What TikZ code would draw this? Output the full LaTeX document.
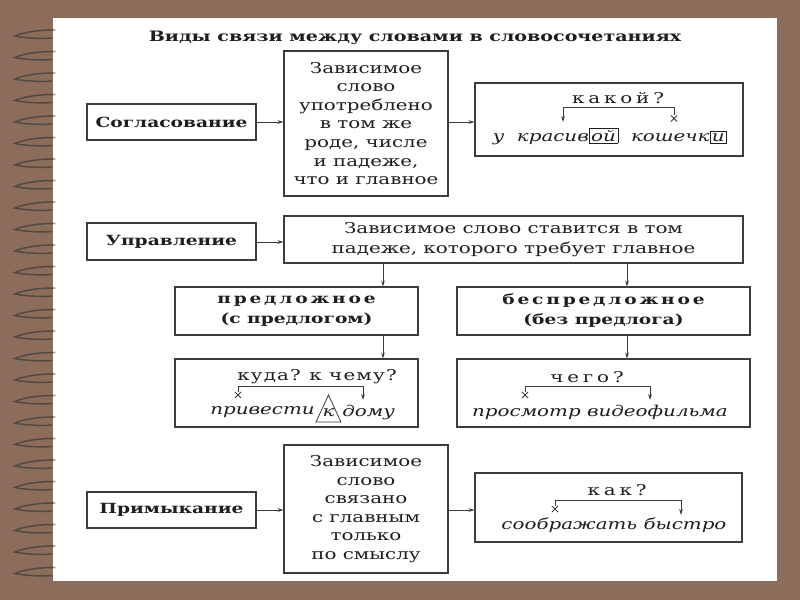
\documentclass[tikz,border=0pt]{standalone}
\usepackage{fontspec}
\setmainfont{DejaVu Serif}[FakeStretch=1.33]
\usetikzlibrary{fit,arrows.meta,shapes.misc}
\definecolor{bgbrown}{RGB}{140,108,90}
\definecolor{ink}{RGB}{30,30,30}
\definecolor{linec}{RGB}{60,60,60}
\definecolor{coilc}{RGB}{80,74,68}
\newcommand\spq[1]{{\addfontfeature{LetterSpace=26}#1}}
\newcommand\spk[1]{{\addfontfeature{LetterSpace=8}#1}}
\newcommand\spb[1]{{\addfontfeature{LetterSpace=20}#1}}
\setlength\fboxsep{1.2pt}
\setlength\fboxrule{0.6pt}
\begin{document}
\begin{tikzpicture}[x=0.75pt,y=-0.75pt,
  every node/.style={text=ink},
  body/.style={font=\fontsize{11.2}{13.9}\selectfont,align=center,inner sep=0pt},
  lab/.style={font=\fontsize{10.5}{13}\selectfont\bfseries,inner sep=0pt},
  sub/.style={font=\fontsize{10.5}{15}\selectfont\bfseries,align=center,inner sep=0pt},
  box/.style={draw=linec,line width=0.8pt,inner sep=0pt},
  arr/.style={draw=linec,line width=0.6pt,-{Stealth[length=4.5pt,width=2.8pt]}},
  brk/.style={draw=linec,line width=0.6pt},
  xmark/.style={draw=linec,line width=0.6pt,cross out,minimum size=4pt,inner sep=0pt},
  coil/.style={draw=coilc,line width=1.1pt,line cap=round},
  it/.style={font=\fontsize{11.2}{13}\selectfont\itshape},
  q/.style={font=\fontsize{11.2}{13}\selectfont}]
\fill[bgbrown] (0,0) rectangle (800,600);
\useasboundingbox (0,0) rectangle (800,600);
\fill[white] (53,18) rectangle (777,581);
% spiral binding
\foreach \i in {0,...,25}{
  \pgfmathsetmacro\yy{33+21.5*\i}
  \draw[coil] (54,\yy-3) .. controls (36,\yy-3) and (21,\yy) .. (15,\yy+3)
     .. controls (24,\yy+5) and (40,\yy+6) .. (52,\yy+5);
  \fill[gray!35] (55,\yy-3) circle (1.3);
}
% title
\node[font=\fontsize{10.75}{13}\selectfont\bfseries] (title) at (415,38) {Виды связи между словами в словосочетаниях};
% row 1
\node[box,fit={(87,104)(256,140)}] (sogl) {};
\node[lab] (sogl-t) at (sogl.center) {Согласование};
\node[box,fit={(284,51)(448,196)}] (m1) {};
\node[body] (m1-t) at (m1.center) {Зависимое\\слово\\употреблено\\в том же\\роде, числе\\и падеже,\\что и главное};
\node[box,fit={(475,83)(743,156)}] (r1) {};
\draw[arr] (sogl.east) -- (sogl.east -| m1.west);
\coordinate (y1) at (0,122);
\draw[arr] (m1.east |- y1) -- (r1.west |- y1);
\node[q] (q1) at (618,98) {\spq{какой?}};
\node[it] (w1) at (610,136) {у \ красив\fbox{ой} \ кошечк\fbox{и}};
\coordinate (b1a) at (563,122);
\coordinate (b1b) at (674,115);
\coordinate (b1t) at (600,107);
\node[xmark] (x1) at (674,118.5) {};
\draw[arr] (b1b) -- (b1b |- b1t) -- (b1a |- b1t) -- (b1a);
% row 2
\node[box,fit={(87,223)(256,260)}] (upr) {};
\node[lab] (upr-t) at (upr.center) {Управление};
\node[box,fit={(284,216)(743,263)}] (m2) {};
\node[body,font=\fontsize{11.2}{15}\selectfont] (m2-t) at (m2.center) {Зависимое слово ставится в том\\падеже, которого требует главное};
\coordinate (y2) at (0,242);
\draw[arr] (upr.east |- y2) -- (m2.west |- y2);
\node[box,fit={(175,287)(418,335)}] (pred) {};
\node[sub] (pred-t) at (pred.center) {\spb{предложное}\\(с предлогом)};
\node[box,fit={(457,287)(750,335)}] (bespred) {};
\node[sub] (bespred-t) at (bespred.center) {\spb{беспредложное}\\(без предлога)};
\coordinate (a1) at (383,0);
\coordinate (a2) at (627,0);
\draw[arr] (m2.south -| a1) -- (pred.north -| a1);
\draw[arr] (m2.south -| a2) -- (bespred.north -| a2);
\node[box,fit={(175,359)(418,427)}] (ex1) {};
\node[box,fit={(457,359)(750,427)}] (ex2) {};
\draw[arr] (pred.south -| a1) -- (ex1.north -| a1);
\draw[arr] (bespred.south -| a2) -- (ex2.north -| a2);
% ex1
\node[q] (q2) at (317,377) {\spk{куда?} \spk{к чему?}};
\node[it,anchor=east,inner sep=0pt] (w2a) at (315,412) {привести};
\node[it,inner sep=0pt] (w2k) at (328.5,413) {к};
\node[it,anchor=west,inner sep=0pt] (w2b) at (342,412) {дому};
\draw[brk] (316,422) -- (341,422) -- (328.5,395) -- cycle;
\coordinate (b2a) at (363,400);
\coordinate (b2b) at (238,392);
\coordinate (b2t) at (300,386);
\node[xmark] (x2) at (238,395) {};
\draw[arr] (b2b) -- (b2b |- b2t) -- (b2a |- b2t) -- (b2a);
% ex2
\node[q] (q3) at (587,377) {\spq{чего?}};
\node[it] (w3) at (600,412) {просмотр видеофильма};
\coordinate (b3a) at (650,400);
\coordinate (b3b) at (525,392);
\coordinate (b3t) at (600,386);
\node[xmark] (x3) at (525,395) {};
\draw[arr] (b3b) -- (b3b |- b3t) -- (b3a |- b3t) -- (b3a);
% row 3
\node[box,fit={(87,492)(256,528)}] (prim) {};
\node[lab] (prim-t) at (prim.center) {Примыкание};
\node[box,fit={(284,445)(448,573)}] (m3) {};
\node[body] (m3-t) at (m3.center) {Зависимое\\слово\\связано\\с главным\\только\\по смыслу};
\node[box,fit={(475,473)(742,542)}] (r3) {};
\coordinate (y3) at (0,510);
\draw[arr] (prim.east |- y3) -- (m3.west |- y3);
\draw[arr] (m3.east |- y3) -- (r3.west |- y3);
\node[q] (q4) at (617,490) {\spq{как?}};
\node[it] (w4) at (614,525) {соображать быстро};
\coordinate (b4a) at (681,515);
\coordinate (b4b) at (555,506);
\coordinate (b4t) at (620,500);
\node[xmark] (x4) at (555,509) {};
\draw[arr] (b4b) -- (b4b |- b4t) -- (b4a |- b4t) -- (b4a);
\end{tikzpicture}
\end{document}
